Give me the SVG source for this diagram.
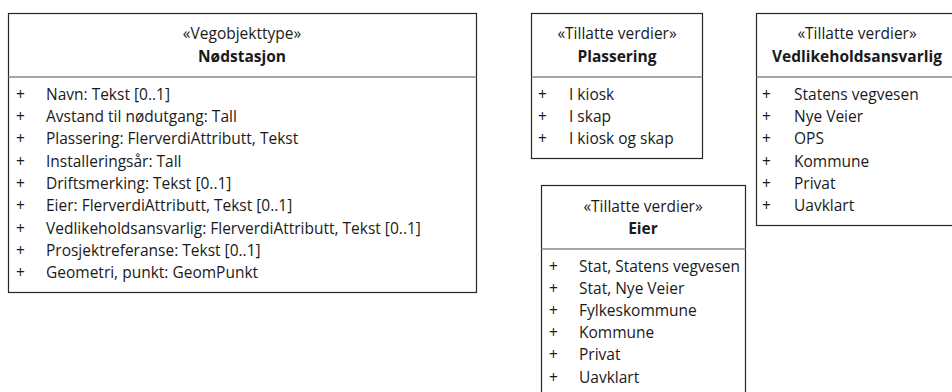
<svg xmlns="http://www.w3.org/2000/svg" width="952" height="392" viewBox="0 0 952 392">
<style>
.box{fill:#fff;stroke:#262626;stroke-width:1.2}
.div{stroke:#8a8a8a;stroke-width:1.5}
text{font-family:"Open Sans","Liberation Sans",sans-serif;font-size:15.5px;fill:#1a1a1a}
.c{text-anchor:middle}
.b{font-weight:bold}
</style>
<rect width="952" height="392" fill="#fff"/>
<g id="nodstasjon">
<rect class="box" x="8.5" y="13.5" width="468" height="279"/>
<line class="div" x1="8.5" y1="77" x2="476.5" y2="77"/>
<text class="c" x="242" y="39">«Vegobjekttype»</text>
<text class="c b" x="242" y="62">Nødstasjon</text>
<g>
<text x="16" y="100">+</text><text x="46" y="100">Navn: Tekst [0..1]</text>
<text x="16" y="122">+</text><text x="46" y="122">Avstand til nødutgang: Tall</text>
<text x="16" y="144">+</text><text x="46" y="144">Plassering: FlerverdiAttributt, Tekst</text>
<text x="16" y="167">+</text><text x="46" y="167">Installeringsår: Tall</text>
<text x="16" y="189">+</text><text x="46" y="189">Driftsmerking: Tekst [0..1]</text>
<text x="16" y="211">+</text><text x="46" y="211">Eier: FlerverdiAttributt, Tekst [0..1]</text>
<text x="16" y="234">+</text><text x="46" y="234">Vedlikeholdsansvarlig: FlerverdiAttributt, Tekst [0..1]</text>
<text x="16" y="256">+</text><text x="46" y="256">Prosjektreferanse: Tekst [0..1]</text>
<text x="16" y="278">+</text><text x="46" y="278">Geometri, punkt: GeomPunkt</text>
</g>
</g>
<g id="plassering">
<rect class="box" x="531.5" y="13.5" width="171" height="145"/>
<line class="div" x1="531.5" y1="77" x2="702.5" y2="77"/>
<text class="c" x="617" y="39">«Tillatte verdier»</text>
<text class="c b" x="617" y="62">Plassering</text>
<text x="538" y="100">+</text><text x="569" y="100">I kiosk</text>
<text x="538" y="122">+</text><text x="569" y="122">I skap</text>
<text x="538" y="144">+</text><text x="569" y="144">I kiosk og skap</text>
</g>
<g id="vedlikeholdsansvarlig">
<rect class="box" x="756.5" y="13.5" width="202" height="212"/>
<line class="div" x1="756.5" y1="77" x2="958" y2="77"/>
<text class="c" x="857" y="39">«Tillatte verdier»</text>
<text class="c b" x="857" y="62">Vedlikeholdsansvarlig</text>
<text x="762" y="100">+</text><text x="794" y="100">Statens vegvesen</text>
<text x="762" y="122">+</text><text x="794" y="122">Nye Veier</text>
<text x="762" y="144">+</text><text x="794" y="144">OPS</text>
<text x="762" y="167">+</text><text x="794" y="167">Kommune</text>
<text x="762" y="189">+</text><text x="794" y="189">Privat</text>
<text x="762" y="211">+</text><text x="794" y="211">Uavklart</text>
</g>
<g id="eier">
<rect class="box" x="541.5" y="185.5" width="204" height="220"/>
<line class="div" x1="541.5" y1="249" x2="745.5" y2="249"/>
<text class="c" x="643" y="212">«Tillatte verdier»</text>
<text class="c b" x="643" y="234">Eier</text>
<text x="549" y="272">+</text><text x="579" y="272">Stat, Statens vegvesen</text>
<text x="549" y="294">+</text><text x="579" y="294">Stat, Nye Veier</text>
<text x="549" y="316">+</text><text x="579" y="316">Fylkeskommune</text>
<text x="549" y="338">+</text><text x="579" y="338">Kommune</text>
<text x="549" y="360">+</text><text x="579" y="360">Privat</text>
<text x="549" y="383">+</text><text x="579" y="383">Uavklart</text>
</g>
<g id="connectors"/>
</svg>
